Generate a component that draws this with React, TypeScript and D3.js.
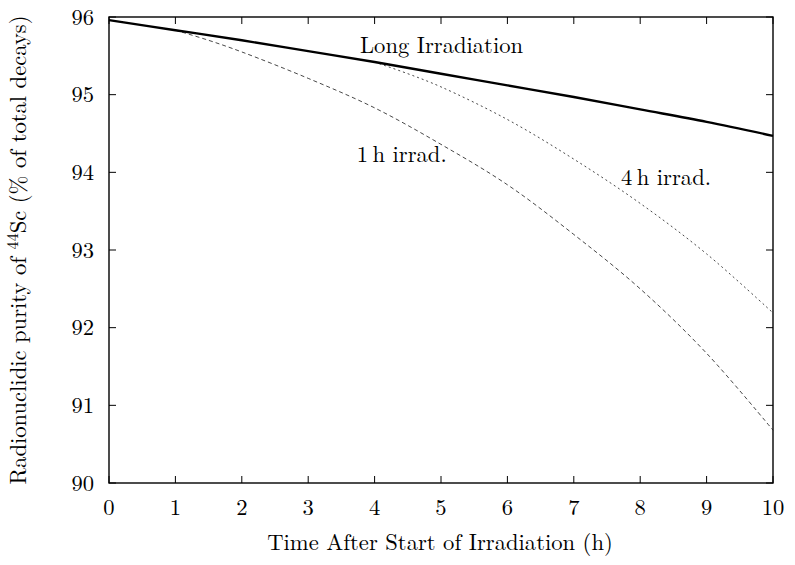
import * as d3 from "d3"
import { useEffect, useRef } from "react"

// hours after start of irradiation
const longHours = [0, 1, 2, 3, 4, 5, 6, 7, 8, 9, 10]
const longPurity = [95.96, 95.83, 95.7, 95.56, 95.42, 95.27, 95.12, 94.97, 94.81, 94.65, 94.47]

const oneHourHours = [1, 1.5, 2, 3, 4, 5, 6, 7, 8, 9, 10]
const oneHourPurity = [95.83, 95.7, 95.55, 95.21, 94.83, 94.36, 93.84, 93.2, 92.5, 91.67, 90.68]

const fourHourHours = [4, 4.5, 5, 6, 7, 8, 9, 10]
const fourHourPurity = [95.42, 95.27, 95.1, 94.68, 94.17, 93.6, 92.95, 92.19]

const xTicks = [0, 1, 2, 3, 4, 5, 6, 7, 8, 9, 10]
const yTicks = [90, 91, 92, 93, 94, 95, 96]

const labels = [
  { text: "Long Irradiation", x: 3.78, y: 95.54 },
  { text: "1\u2009h irrad.", x: 3.73, y: 94.13 },
  { text: "4\u2009h irrad.", x: 7.71, y: 93.84 },
]

const W = 795
const H = 565
const FONT = "Latin Modern Roman, CMU Serif, Liberation Serif, serif"
const FS = "22.6px"

export default function App() {
  const svgRef = useRef<SVGSVGElement>(null)

  useEffect(() => {
    if (!svgRef.current) return
    document.body.style.margin = "0"
    const svg = d3.select(svgRef.current)
    svg.selectAll("*").remove()

    const m = { left: 109, right: W - 773, top: 17, bottom: H - 483 }
    const x = d3.scaleLinear().domain([0, 10]).range([m.left, W - m.right])
    const y = d3.scaleLinear().domain([90, 96]).range([H - m.bottom, m.top])

    const g = svg.append("g")
    const txt = () => g.append("text").attr("font-family", FONT).attr("font-size", FS).attr("fill", "#000")

    // ticks, mirrored on all sides, pointing inward
    const tl = 7
    xTicks.forEach((t) => {
      g.append("line").attr("x1", x(t)).attr("x2", x(t)).attr("y1", y(90)).attr("y2", y(90) - tl)
        .attr("stroke", "#000").attr("stroke-width", 1)
      g.append("line").attr("x1", x(t)).attr("x2", x(t)).attr("y1", y(96)).attr("y2", y(96) + tl)
        .attr("stroke", "#000").attr("stroke-width", 1)
      txt().attr("x", x(t)).attr("y", 515).attr("text-anchor", "middle").text(t)
    })
    yTicks.forEach((t) => {
      g.append("line").attr("x1", x(0)).attr("x2", x(0) + tl).attr("y1", y(t)).attr("y2", y(t))
        .attr("stroke", "#000").attr("stroke-width", 1)
      g.append("line").attr("x1", x(10)).attr("x2", x(10) - tl).attr("y1", y(t)).attr("y2", y(t))
        .attr("stroke", "#000").attr("stroke-width", 1)
      txt().attr("x", 94).attr("y", y(t) + 7.5).attr("text-anchor", "end").text(t)
    })

    const line = d3.line<[number, number]>()
      .x((d) => x(d[0]))
      .y((d) => y(d[1]))
      .curve(d3.curveCatmullRom)

    const zip = (a: number[], b: number[]) => a.map((v, i) => [v, b[i]] as [number, number])

    g.append("path").attr("d", line(zip(oneHourHours, oneHourPurity)))
      .attr("fill", "none").attr("stroke", "#333").attr("stroke-width", 0.9)
      .attr("stroke-dasharray", "4,3")
    g.append("path").attr("d", line(zip(fourHourHours, fourHourPurity)))
      .attr("fill", "none").attr("stroke", "#333").attr("stroke-width", 0.9)
      .attr("stroke-dasharray", "2,3")
    g.append("path").attr("d", line(zip(longHours, longPurity)))
      .attr("fill", "none").attr("stroke", "#000").attr("stroke-width", 2.4)

    // frame
    g.append("rect").attr("x", x(0)).attr("y", y(96)).attr("width", x(10) - x(0))
      .attr("height", y(90) - y(96)).attr("fill", "none").attr("stroke", "#000").attr("stroke-width", 1.4)

    labels.forEach((l) => {
      txt().attr("x", x(l.x)).attr("y", y(l.y)).text(l.text)
    })

    txt().attr("x", (x(0) + x(10)) / 2 - 1).attr("y", 550).attr("text-anchor", "middle")
      .text("Time After Start of Irradiation (h)")

    const yl = txt()
      .attr("transform", `translate(26, ${(y(90) + y(96)) / 2}) rotate(-90)`)
      .attr("text-anchor", "middle")
    yl.append("tspan").text("Radionuclidic purity of ")
    yl.append("tspan").attr("dy", -8).attr("font-size", "16px").text("44")
    yl.append("tspan").attr("dy", 8).text("Sc (% of total decays)")
  }, [])

  return <svg ref={svgRef} width={W} height={H} style={{ display: "block", background: "#fff" }} />
}
